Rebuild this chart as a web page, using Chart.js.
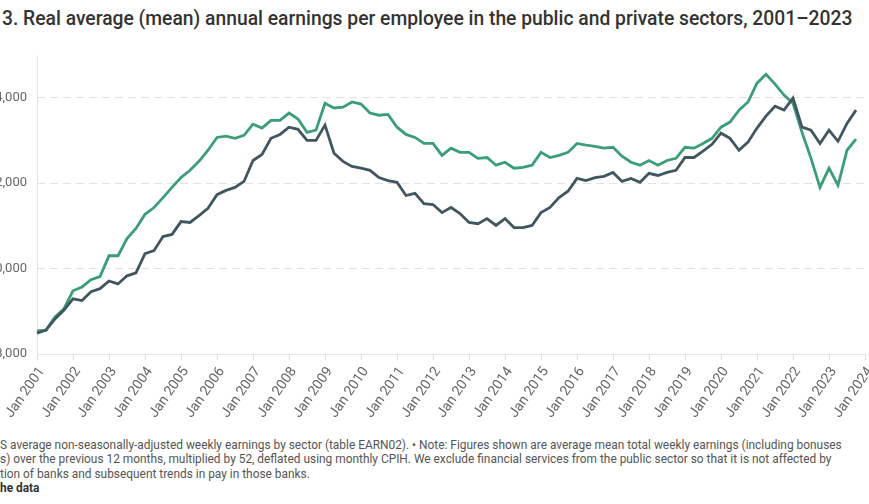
<!DOCTYPE html>
<html lang="en">
<head>
    <meta charset="UTF-8">
    <title>Real average annual earnings, public and private sectors</title>
    <script src="https://cdn.jsdelivr.net/npm/chart.js"></script>
    <style>
        html, body { margin: 0; padding: 0; background: #fff; }
        body { width: 869px; height: 504px; overflow: hidden; position: relative; font-family: Roboto, "Noto Sans", sans-serif; }
        #title { position: absolute; left: 2px; top: 7px; font-size: 19.3px; font-weight: 500; color: #333; white-space: nowrap; }
        #wrap { position: absolute; left: -67px; top: 40px; width: 936px; height: 385px; }
        #notes { position: absolute; left: 0; top: 438px; font-size: 11.9px; line-height: 14.4px; color: #555; white-space: nowrap; }
        #notes b { color: #333; }
    </style>
</head>
<body>
    <div id="title">3. Real average (mean) annual earnings per employee in the public and private sectors, 2001–2023</div>
    <div id="wrap"><canvas id="earningsChart"></canvas></div>
    <div id="notes">
        S average non-seasonally-adjusted weekly earnings by sector (table EARN02). • Note: Figures shown are average mean total weekly earnings (including bonuses<br>
        s) over the previous 12 months, multiplied by 52, deflated using monthly CPIH. We exclude financial services from the public sector so that it is not affected by<br>
        tion of banks and subsequent trends in pay in those banks.<br>
        <b>he data</b>
    </div>

    <script>
        // quarterly readings, Jan 2001 .. Oct 2023 (real £ per year)
        const publicSector = [
            28540, 28560, 28870, 29060, 29480, 29570, 29740, 29810,
            30300, 30300, 30700, 30940, 31270, 31430, 31660, 31900,
            32130, 32300, 32510, 32770, 33070, 33100, 33050, 33120,
            33380, 33290, 33470, 33470, 33640, 33500, 33190, 33240,
            33870, 33760, 33780, 33900, 33850, 33640, 33590, 33610,
            33310, 33140, 33070, 32930, 32930, 32650, 32820, 32720,
            32720, 32580, 32600, 32420, 32490, 32350, 32370, 32420,
            32720, 32600, 32650, 32720, 32930, 32890, 32860, 32820,
            32840, 32630, 32490, 32420, 32530, 32420, 32530, 32580,
            32840, 32820, 32930, 33050, 33310, 33430, 33710, 33900,
            34340, 34550, 34320, 34060, 33870, 33190, 32580, 31900,
            32350, 31950, 32770, 33030
        ];
        const privateSector = [
            28490, 28560, 28820, 29030, 29290, 29250, 29460, 29530,
            29710, 29640, 29830, 29900, 30350, 30420, 30750, 30800,
            31100, 31080, 31240, 31410, 31730, 31830, 31900, 32040,
            32530, 32670, 33050, 33140, 33310, 33260, 33000, 33000,
            33360, 32700, 32510, 32390, 32350, 32300, 32130, 32060,
            32020, 31710, 31760, 31520, 31500, 31310, 31430, 31290,
            31080, 31050, 31170, 31010, 31170, 30960, 30960, 31010,
            31310, 31430, 31660, 31810, 32110, 32060, 32130, 32160,
            32250, 32040, 32110, 32020, 32230, 32180, 32250, 32300,
            32600, 32600, 32750, 32910, 33170, 33050, 32770, 32960,
            33290, 33570, 33800, 33710, 33990, 33310, 33240, 32930,
            33240, 32980, 33400, 33710
        ];
        const yTicks = [28000, 30000, 32000, 34000];
        const firstYear = 2001;
        const lastYear = 2024;
        const quarterMonths = ['Jan', 'Apr', 'Jul', 'Oct'];

        // quarter labels from Jan 2001 through Jan 2024
        const labels = [];
        for (let y = firstYear; y <= lastYear; y++) {
            for (let q = 0; q < 4; q++) {
                if (y === lastYear && q > 0) break;
                labels.push(quarterMonths[q] + ' ' + y);
            }
        }

        const ctx = document.getElementById('earningsChart').getContext('2d');
        const earningsChart = new Chart(ctx, {
            type: 'line',
            data: {
                labels: labels,
                datasets: [{
                    label: 'Private sector',
                    data: privateSector,
                    borderColor: '#405660',
                    borderWidth: 2.8,
                    pointRadius: 0,
                    tension: 0
                }, {
                    label: 'Public sector',
                    data: publicSector,
                    borderColor: '#3b9e77',
                    borderWidth: 2.8,
                    pointRadius: 0,
                    tension: 0
                }]
            },
            options: {
                responsive: true,
                maintainAspectRatio: false,
                animation: false,
                layout: { padding: { top: 15, right: 4, left: 0, bottom: 0 } },
                plugins: {
                    legend: { display: false },
                    tooltip: { enabled: false }
                },
                scales: {
                    x: {
                        type: 'category',
                        offset: false,
                        afterBuildTicks: function(scale) {
                            scale.ticks = scale.ticks.filter(t => labels[t.value].startsWith('Jan'));
                        },
                        afterFit: function(scale) {
                            scale.height = 71;
                            scale.paddingLeft = 0;
                            scale.paddingRight = 0;
                        },
                        ticks: {
                            autoSkip: false,
                            minRotation: 55,
                            maxRotation: 55,
                            color: '#666',
                            padding: 4,
                            labelOffset: 5,
                            font: { family: 'Roboto', size: 14 },
                            callback: function(value) { return labels[value]; }
                        },
                        grid: {
                            drawOnChartArea: true,
                            color: c => c.index === 0 ? '#e6e6e6' : 'rgba(0,0,0,0)',
                            tickColor: '#e0e0e0',
                            tickLength: 6
                        },
                        border: { display: true, color: '#e6e6e6', width: 1 }
                    },
                    y: {
                        min: 28000,
                        max: 35000,
                        afterBuildTicks: function(scale) {
                            scale.ticks = yTicks.map(v => ({ value: v }));
                        },
                        afterFit: function(scale) {
                            scale.width = 104;
                            scale.paddingTop = 0;
                            scale.paddingBottom = 0;
                        },
                        ticks: {
                            color: '#666',
                            padding: 10,
                            font: { family: 'Roboto', size: 13 },
                            callback: v => '£' + v.toLocaleString('en-GB')
                        },
                        grid: {
                            drawTicks: false,
                            color: '#e2e2e2',
                            lineWidth: 1
                        },
                        border: { display: false, dash: [8, 5] }
                    }
                }
            }
        });
    </script>
</body>
</html>
